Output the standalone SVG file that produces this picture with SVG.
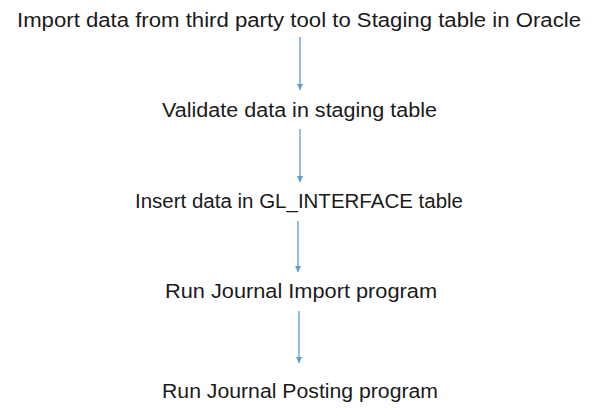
<svg xmlns="http://www.w3.org/2000/svg" width="600" height="420" viewBox="0 0 600 420">
<style>
.t{font-family:"Liberation Sans","Open Sans",Arial,sans-serif;font-size:20px;fill:#1a1a1a}
.c{stroke:#5B9BD5;stroke-width:1.3;fill:none}
</style>
<defs>
<marker id="ah" viewBox="0 0 8 8" refX="8" refY="4" markerWidth="6" markerHeight="6" markerUnits="userSpaceOnUse" orient="auto">
<path d="M0,0 L8,4 L0,8 Z" fill="#5B9BD5"/>
</marker>
</defs>
<rect width="600" height="420" fill="#ffffff"/>
<g id="connectors">
<line class="c" x1="300" y1="37" x2="300" y2="90" marker-end="url(#ah)"/>
<line class="c" x1="300" y1="129" x2="300" y2="182" marker-end="url(#ah)"/>
<line class="c" x1="298" y1="221" x2="298" y2="272" marker-end="url(#ah)"/>
<line class="c" x1="299" y1="311" x2="299" y2="363" marker-end="url(#ah)"/>
</g>
<g id="n1"><text class="t" x="17" y="27" textLength="564" lengthAdjust="spacingAndGlyphs">Import data from third party tool to Staging table in Oracle</text></g>
<g id="n2"><text class="t" x="162" y="117" textLength="275" lengthAdjust="spacingAndGlyphs">Validate data in staging table</text></g>
<g id="n3"><text class="t" x="135" y="208" textLength="328" lengthAdjust="spacingAndGlyphs">Insert data in GL_INTERFACE table</text></g>
<g id="n4"><text class="t" x="165" y="298" textLength="272" lengthAdjust="spacingAndGlyphs">Run Journal Import program</text></g>
<g id="n5"><text class="t" x="162" y="398" textLength="276" lengthAdjust="spacingAndGlyphs">Run Journal Posting program</text></g>
</svg>
